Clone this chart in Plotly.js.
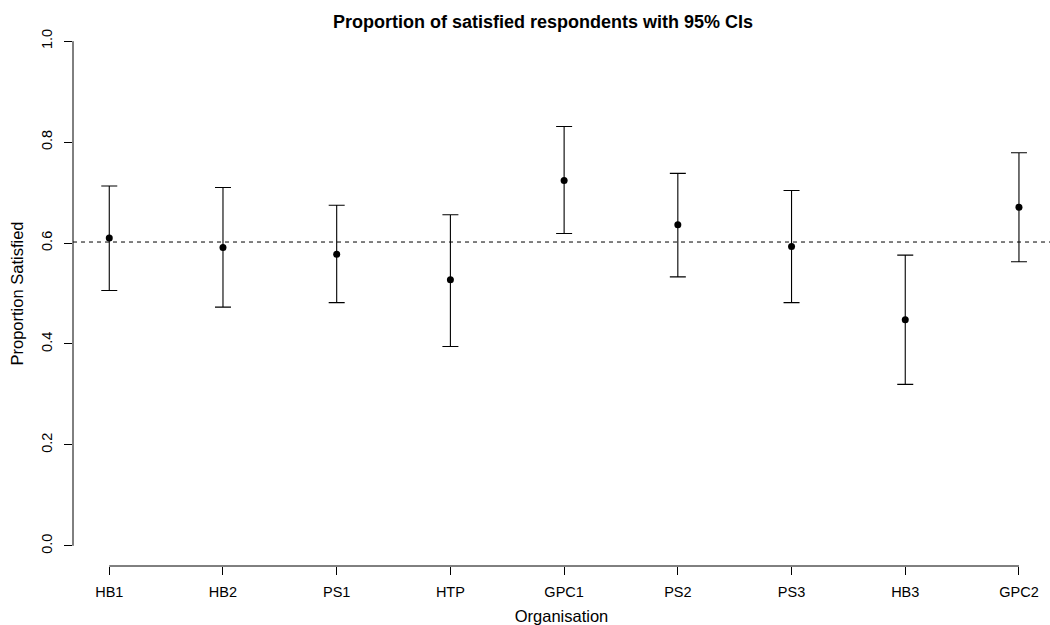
<!DOCTYPE html>
<html>
<head>
<meta charset="utf-8">
<script src="https://cdn.plot.ly/plotly-3.0.1.min.js"></script>
<style>html,body{margin:0;padding:0;background:#fff;}#chart{width:1050px;height:625px;}</style>
</head>
<body>
<div id="chart"></div>
<script>
const organisations = ["HB1", "HB2", "PS1", "HTP", "GPC1", "PS2", "PS3", "HB3", "GPC2"];
const positions = [1, 2, 3, 4, 5, 6, 7, 8, 9];
const proportion = [0.610, 0.591, 0.578, 0.527, 0.724, 0.636, 0.593, 0.448, 0.671];
const lowerCI = [0.506, 0.473, 0.482, 0.395, 0.619, 0.533, 0.482, 0.320, 0.563];
const upperCI = [0.713, 0.710, 0.675, 0.656, 0.831, 0.738, 0.704, 0.576, 0.779];
const overallProportion = 0.602;
const yTickVals = [0, 0.2, 0.4, 0.6, 0.8, 1.0];
const yTickText = ["0.0", "0.2", "0.4", "0.6", "0.8", "1.0"];

const family = "Liberation Sans, Arial, Helvetica, sans-serif";
const tickFont = {family: family, size: 14.5, color: "#000"};
const axisTitleFont = {family: family, size: 16.5, color: "#000"};

const trace = {
  type: "scatter",
  mode: "markers",
  x: positions,
  y: proportion,
  marker: {color: "#000", size: 7, symbol: "circle"},
  error_y: {
    type: "data",
    symmetric: false,
    array: upperCI.map((u, i) => u - proportion[i]),
    arrayminus: lowerCI.map((l, i) => proportion[i] - l),
    color: "#000",
    thickness: 1.1,
    width: 8
  },
  hoverinfo: "x+y"
};

const layout = {
  width: 1050,
  height: 625,
  paper_bgcolor: "#fff",
  plot_bgcolor: "#fff",
  font: tickFont,
  showlegend: false,
  margin: {l: 73, r: 0, t: 21, b: 59, pad: 0},
  title: {
    text: "<b>Proportion of satisfied respondents with 95% CIs</b>",
    font: {family: family, size: 18, color: "#000"},
    x: 543 / 1050, xref: "container", xanchor: "center",
    y: 1 - 22 / 625, yref: "container", yanchor: "middle"
  },
  xaxis: {
    range: [0.681, 9.273],
    tickmode: "array",
    tickvals: positions,
    ticktext: organisations,
    ticks: "outside", ticklen: 8, tickwidth: 1, tickcolor: "#000",
    showgrid: false, zeroline: false, showline: false,
    tickfont: tickFont,
    ticklabelstandoff: 5,
    title: {text: "Organisation", font: axisTitleFont, standoff: 12},
    automargin: false
  },
  yaxis: {
    range: [-0.04, 1.04],
    tickmode: "array",
    tickvals: yTickVals,
    ticktext: yTickText,
    tickangle: -90,
    ticks: "outside", ticklen: 8, tickwidth: 1, tickcolor: "#000",
    showgrid: false, zeroline: false, showline: false,
    tickfont: tickFont,
    ticklabelstandoff: 6,
    title: {text: "Proportion Satisfied", font: axisTitleFont, standoff: 11},
    automargin: false
  },
  shapes: [
    {type: "line", xref: "paper", x0: 0, x1: 0, yref: "y", y0: yTickVals[0], y1: yTickVals[yTickVals.length - 1], line: {color: "#000", width: 1}},
    {type: "line", xref: "x", x0: positions[0], x1: positions[positions.length - 1], yref: "paper", y0: 0, y1: 0, line: {color: "#000", width: 1}},
    {type: "line", xref: "paper", x0: 0, x1: 1, yref: "y", y0: overallProportion, y1: overallProportion, line: {color: "#000", width: 1, dash: "4px,4px"}}
  ]
};

Plotly.newPlot("chart", [trace], layout, {displayModeBar: false, staticPlot: true});
</script>
</body>
</html>
